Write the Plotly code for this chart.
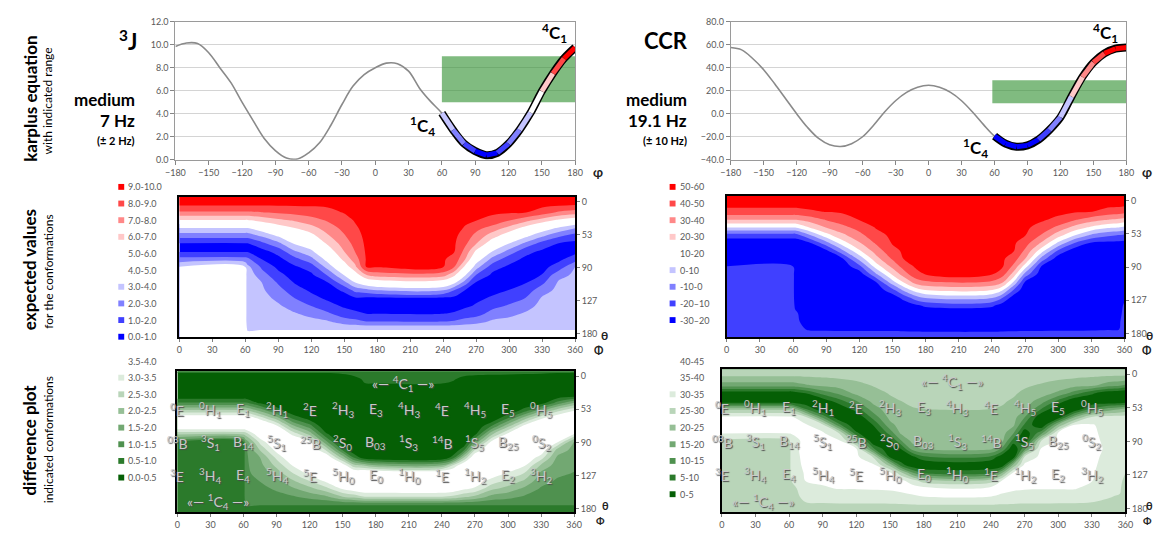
import numpy as np
import plotly.graph_objects as go

W, H = 1163, 533
FONT = "Lato"
TICK = dict(size=9, color='#595959', family=FONT)


def px(x):
    return x / W


def py(y):
    return 1 - y / H


# ---------------------------------------------------------------- data
PHI_TORSION = list(range(-180, 181, 10))
J3_VALUES = [9.85, 10.15, 10.1, 9.3, 8.0, 6.7, 5.0, 3.4, 1.85, 0.8, 0.15, 0.07, 0.6,
             1.5, 3.0, 4.8, 6.4, 7.4, 8.0, 8.4, 8.35, 7.7, 6.2, 5.05, 4.05, 2.6, 1.4,
             0.75, 0.4, 0.6, 1.4, 2.6, 4.1, 5.95, 7.5, 8.8, 9.75]
CCR_VALUES = [57.5, 55.5, 48, 38.3, 26, 13, 0, -12, -21.5, -27, -28.5, -26, -20,
              -10, 1.5, 11.3, 18.5, 23, 24.7, 23, 18.5, 11.3, 1.5, -9.5, -19.5, -26,
              -28.7, -27.5, -22.5, -14, -3, 15, 32, 44.5, 52.5, 56.5, 57.5]
J3_MEDIUM, J3_TOL = 7.0, 2.0
CCR_MEDIUM, CCR_TOL = 19.1, 10.0
SEG_START = 60
BOX_J = (60, 180)
BOX_CCR = (58, 180)

THETA_ROWS = list(range(0, 181, 10))
THETA_TICKPOS = [6, 48.5, 91, 133, 175.5]
THETA_TICKTEXT = ["0", "53", "90", "127", "180"]

PHI_COLS_J = [0, 60, 62, 75, 90, 105, 120, 135, 150, 160, 170, 180, 240, 250, 260,
              270, 285, 300, 315, 330, 345, 360]
J_EXPECTED_COLS = [
    [9.6, 9.12, 7.83, 5.89, 3.98, 2.40, 0.90, 0.89, 2.37, 4.03, 4.4, 4.4, 4.4, 4.4, 4.4, 4.4, 4.4, 4.4, 4.4],
    [9.6, 9.12, 7.83, 5.89, 3.98, 2.40, 0.90, 0.89, 2.37, 4.03, 4.4, 4.4, 4.4, 4.4, 4.4, 4.4, 4.4, 4.4, 4.4],
    [9.6, 9.12, 7.83, 5.89, 3.98, 2.40, 0.90, 0.89, 2.25, 3.3, 3.6, 3.6, 3.6, 3.6, 3.6, 3.6, 3.6, 3.9, 4.4],
    [9.6, 9.12, 7.96, 6.3, 4.64, 3.14, 1.67, 0.63, 1.0, 1.83, 2.44, 3.0, 3.16, 3.33, 3.49, 3.66, 3.82, 3.96, 4.4],
    [9.6, 9.12, 8.12, 6.77, 5.38, 4.13, 2.71, 1.38, 0.68, 0.77, 1.29, 1.88, 2.35, 2.78, 3.14, 3.42, 3.69, 3.96, 4.4],
    [9.6, 9.12, 8.29, 7.13, 6.0, 5.05, 4.1, 2.88, 1.67, 0.85, 0.54, 0.92, 1.44, 2.0, 2.56, 3.09, 3.55, 3.96, 4.4],
    [9.6, 9.14, 8.46, 7.6, 6.6, 5.64, 4.73, 3.78, 2.67, 1.44, 0.83, 0.5, 0.83, 1.33, 2.0, 2.67, 3.33, 3.96, 4.4],
    [9.6, 9.17, 8.67, 8.11, 7.5, 6.86, 6.14, 5.30, 4.43, 3.38, 2.13, 0.96, 0.58, 0.81, 1.38, 2.18, 3.09, 3.96, 4.4],
    [9.6, 9.3, 9.05, 8.64, 8.29, 7.91, 7.45, 7.0, 6.29, 5.29, 4.12, 2.71, 1.17, 0.55, 0.85, 1.45, 2.5, 3.96, 4.4],
    [9.6, 9.43, 9.26, 9.09, 8.86, 8.59, 8.32, 8.05, 7.5, 6.75, 5.43, 4.02, 2.33, 0.88, 0.65, 1.2, 2.3, 3.96, 4.4],
    [9.6, 9.53, 9.47, 9.4, 9.33, 9.27, 9.2, 9.13, 9.07, 9.02, 7.0, 4.9, 2.6, 0.8, 0.6, 1.0, 2.0, 3.96, 4.4],
    [9.6, 9.54, 9.47, 9.41, 9.35, 9.28, 9.22, 9.16, 9.09, 9.03, 7.5, 5.3, 3.0, 0.8, 0.6, 1.0, 2.0, 3.96, 4.4],
    [9.6, 9.54, 9.47, 9.41, 9.35, 9.28, 9.22, 9.16, 9.09, 9.03, 7.5, 5.3, 3.0, 0.8, 0.6, 1.0, 2.0, 3.96, 4.4],
    [9.6, 9.52, 9.44, 9.36, 9.28, 9.2, 9.12, 9.04, 8.71, 8.0, 6.3, 4.3, 2.0, 0.75, 0.65, 1.1, 2.1, 3.96, 4.4],
    [9.6, 9.44, 9.28, 9.13, 8.93, 8.56, 8.19, 7.67, 7.02, 5.69, 4.15, 2.5, 0.95, 0.52, 0.85, 1.4, 2.4, 3.96, 4.4],
    [9.6, 9.4, 9.2, 9.02, 8.33, 7.67, 7.02, 5.78, 4.67, 3.43, 2.02, 0.89, 0.54, 0.82, 1.1, 1.6, 2.6, 3.96, 4.4],
    [9.6, 9.38, 9.16, 8.67, 7.6, 6.43, 5.18, 3.98, 2.63, 1.38, 0.8, 0.51, 0.77, 1.12, 1.71, 2.38, 3.17, 3.96, 4.4],
    [9.6, 9.35, 9.1, 8.02, 6.67, 5.25, 3.98, 2.63, 1.38, 0.81, 0.54, 0.73, 1.02, 1.56, 2.12, 2.71, 3.33, 3.96, 4.4],
    [9.6, 9.31, 9.03, 7.33, 5.6, 4.27, 2.71, 1.29, 0.8, 0.55, 0.7, 0.95, 1.44, 2.02, 2.59, 3.13, 3.57, 3.96, 4.4],
    [9.6, 9.27, 8.5, 6.5, 4.77, 3.17, 1.57, 0.83, 0.56, 0.72, 1.02, 1.77, 2.58, 3.11, 3.33, 3.56, 3.78, 3.96, 4.4],
    [9.6, 9.17, 7.83, 5.8, 3.83, 2.17, 0.93, 0.57, 0.79, 1.4, 2.67, 3.12, 3.26, 3.41, 3.56, 3.71, 3.85, 3.96, 4.4],
    [9.6, 9.03, 7.52, 5.23, 3.02, 1.53, 0.74, 0.73, 1.5, 3.05, 3.17, 3.29, 3.4, 3.52, 3.64, 3.76, 3.88, 3.96, 4.4],
]

PHI_COLS_CCR = [0, 60, 62, 75, 90, 105, 120, 135, 150, 160, 170, 180, 240, 250, 260,
                270, 285, 300, 315, 330, 345, 355, 360]
CCR_EXPECTED_COLS = [
    [58, 53.5, 46.6, 30.5, 10.5, -15, -26.7, -28.5, -26.4, -19.8, -18, -18, -18, -18, -18, -18, -18, -18, -18],
    [58, 53.5, 46.6, 30.5, 10.5, -15, -26.7, -28.5, -26.4, -19.8, -18, -18, -18, -18, -18, -18, -18, -18, -18],
    [58, 53.5, 46.6, 30.5, 10.5, -15, -26.7, -28.5, -26.4, -23, -23, -23, -23, -22.5, -21, -19, -19, -19, -18],
    [58, 53.8, 48.6, 34.3, 20.5, -1.1, -21.2, -26.4, -27.1, -27.8, -28.5, -27.9, -27.3, -26.6, -26.2, -24.1, -22.3, -20.4, -18],
    [58, 54.2, 50.4, 41, 30.5, 16, -4, -22.4, -26.5, -27.2, -27.8, -28.5, -27.8, -27.2, -26.5, -25.5, -23, -20.5, -18],
    [58, 54.7, 51.3, 45.4, 37.3, 27.8, 15.7, -2, -20.5, -26.4, -27.1, -27.9, -28.3, -27.7, -27.2, -26.1, -23.4, -20.6, -18],
    [58, 55.3, 52.7, 50.5, 43.8, 36.9, 29, 18.6, 3.3, -13.3, -26.1, -27.0, -28.0, -28.3, -27.4, -26.1, -23.6, -20.6, -18],
    [58, 56.2, 54.4, 52.5, 50.7, 46.7, 41.1, 34.3, 26, 14.3, -2, -20.5, -26.7, -28.2, -27.5, -26.3, -23.6, -20.6, -18],
    [58, 56.8, 55.6, 54.4, 53.2, 51.9, 50.7, 47.5, 41.3, 32.7, 21.3, 6, -13.3, -26.4, -28.5, -26.6, -23.8, -20.6, -18],
    [58, 57, 56, 55.1, 54.1, 53.1, 52.1, 51.2, 50.2, 43.8, 34.4, 20.5, 2, -16.7, -27, -27.4, -24.2, -20.7, -18],
    [58, 57.2, 56.4, 55.5, 54.7, 53.9, 53.1, 52.2, 51.4, 50.6, 46.3, 32.9, 14, -6, -23, -28.5, -25.1, -20.9, -18],
    [58, 57.2, 56.4, 55.7, 54.9, 54.1, 53.3, 52.6, 51.8, 51.0, 50.2, 38.3, 20.5, 0.5, -18.3, -27.8, -26, -21, -18],
    [58, 57.2, 56.4, 55.7, 54.9, 54.1, 53.3, 52.6, 51.8, 51.0, 50.2, 38.3, 20.5, 0.5, -18.3, -27.8, -26, -21, -18],
    [58, 57.1, 56.3, 55.4, 54.6, 53.7, 52.9, 52.0, 51.2, 50.3, 43.3, 30.5, 10.5, -10.5, -26, -27.9, -24.8, -20.8, -18],
    [58, 56.9, 55.8, 54.7, 53.6, 52.4, 51.3, 50.2, 44.7, 37, 25, 8, -11.7, -26, -28.1, -26.8, -24, -20.7, -18],
    [58, 56.4, 54.8, 53.2, 51.6, 50.5, 44.4, 38.3, 30.5, 15, -4, -21.2, -26.8, -28.2, -27.5, -26.3, -23.6, -20.6, -18],
    [58, 55.8, 53.6, 51.3, 46.9, 39, 28.6, 14.3, -4, -21.2, -26.5, -27.4, -28.3, -27.8, -26.9, -26.2, -23.4, -20.6, -18],
    [58, 55.1, 52.3, 48, 37.5, 24.3, 8, -12, -26.1, -26.8, -27.5, -28.2, -28.1, -27.4, -26.7, -26.2, -23.3, -20.5, -18],
    [58, 54.5, 51, 41.3, 26.7, 10.5, -10.5, -26.2, -26.6, -27.3, -27.9, -28.5, -27.9, -27.3, -26.6, -26.2, -23.3, -20.5, -18],
    [58, 54, 50.5, 35, 18, -2, -21.2, -26.3, -26.7, -27.1, -27.5, -27.1, -26.8, -26.4, -26.1, -24.1, -22.3, -20.4, -18],
    [58, 53.4, 46.2, 30.5, 12, -8, -22.7, -24.2, -24.5, -24.7, -25, -24.5, -24, -23.5, -23, -22.1, -21.1, -20.2, -18],
    [58, 53.2, 45, 28.5, 10.5, -10.5, -22.8, -23.8, -24, -24.2, -24.5, -24, -23.5, -23, -22.5, -21.5, -20.6, -20.1, -18],
    [58, 53, 43.3, 26.7, 8, -12, -23, -23.3, -23.5, -23.8, -24, -23, -22, -21, -19, -18.5, -18.3, -18.1, -18],
]

J_LEVELS = (1, 9, 1)
J_COLORS = ['#0000ff', '#4040ff', '#8080ff', '#c4c4ff', '#ffffff', '#ffffff',
            '#ffc8c8', '#ff8888', '#ff4848', '#ff0000']
CCR_LEVELS = (-20, 50, 10)
CCR_COLORS = ['#0000ff', '#4040ff', '#8080ff', '#c4c4ff', '#ffffff',
              '#ffc8c8', '#ff8888', '#ff4848', '#ff0000']
JD_LEVELS = (0.5, 3.5, 0.5)
CD_LEVELS = (5, 35, 5)
GREENS = ['#055f05', '#2b7a2b', '#4f914f', '#72a872', '#96bf96', '#b9d5b9',
          '#dcebdc', '#ffffff']

J_LEGEND = ["9.0-10.0", "8.0-9.0", "7.0-8.0", "6.0-7.0", "5.0-6.0", "4.0-5.0",
            "3.0-4.0", "2.0-3.0", "1.0-2.0", "0.0-1.0"]
CCR_LEGEND = ["50-60", "40-50", "30-40", "20-30", "10-20", "0-10", "-10-0",
              "-20–10", "-30–20"]
JD_LEGEND = ["3.5-4.0", "3.0-3.5", "2.5-3.0", "2.0-2.5", "1.5-2.0", "1.0-1.5",
             "0.5-1.0", "0.0-0.5"]
CD_LEGEND = ["40-45", "35-40", "30-35", "25-30", "20-25", "15-20", "10-15",
             "5-10", "0-5"]

LABEL_PHI = list(range(0, 331, 30))
ROW1 = ["<sup>0</sup>E", "<sup>0</sup>H<sub>1</sub>", "E<sub>1</sub>", "<sup>2</sup>H<sub>1</sub>",
        "<sup>2</sup>E", "<sup>2</sup>H<sub>3</sub>", "E<sub>3</sub>", "<sup>4</sup>H<sub>3</sub>",
        "<sup>4</sup>E", "<sup>4</sup>H<sub>5</sub>", "E<sub>5</sub>", "<sup>0</sup>H<sub>5</sub>"]
ROW2 = ["<sup>03</sup>B", "<sup>3</sup>S<sub>1</sub>", "B<sub>14</sub>", "<sup>5</sup>S<sub>1</sub>",
        "<sup>25</sup>B", "<sup>2</sup>S<sub>0</sub>", "B<sub>03</sub>", "<sup>1</sup>S<sub>3</sub>",
        "<sup>14</sup>B", "<sup>1</sup>S<sub>5</sub>", "B<sub>25</sub>", "<sup>0</sup>S<sub>2</sub>"]
ROW3 = ["<sup>3</sup>E", "<sup>3</sup>H<sub>4</sub>", "E<sub>4</sub>", "<sup>5</sup>H<sub>4</sub>",
        "<sup>5</sup>E", "<sup>5</sup>H<sub>0</sub>", "E<sub>0</sub>", "<sup>1</sup>H<sub>0</sub>",
        "<sup>1</sup>E", "<sup>1</sup>H<sub>2</sub>", "E<sub>2</sub>", "<sup>3</sup>H<sub>2</sub>"]
ROW_THETA = [48.5, 91, 133]

# ---------------------------------------------------------------- figure
fig = go.Figure()
shapes, annots = [], []


def bin_color(v, levels, colors):
    start, end, size = levels
    idx = int(np.floor((v - start) / size)) + 1
    return colors[max(0, min(len(colors) - 1, idx))]


def add_karplus(xa, ya, values, levels, colors):
    fig.add_trace(go.Scatter(x=PHI_TORSION, y=values, mode='lines', xaxis=xa, yaxis=ya,
                             line=dict(color='#8a8a8a', width=1.6, shape='spline', smoothing=1),
                             hoverinfo='skip', showlegend=False))
    i0 = PHI_TORSION.index(SEG_START)
    xs, ys = PHI_TORSION[i0:], values[i0:]
    fig.add_trace(go.Scatter(x=xs, y=ys, mode='lines', xaxis=xa, yaxis=ya,
                             line=dict(color='black', width=8, shape='spline', smoothing=1),
                             hoverinfo='skip', showlegend=False))
    for k in range(len(xs) - 1):
        c = bin_color((ys[k] + ys[k + 1]) / 2, levels, colors)
        fig.add_trace(go.Scatter(x=xs[k:k + 2], y=ys[k:k + 2], mode='lines', xaxis=xa, yaxis=ya,
                                 line=dict(color=c, width=5), hoverinfo='skip', showlegend=False))


def add_map(x, z, xa, ya, levels, colors):
    start, end, size = levels
    nc = int(round((end - start) / size)) + 1
    cs = [[k / nc, c] for k, c in enumerate(colors)]
    fig.add_trace(go.Contour(x=x, y=THETA_ROWS, z=z, xaxis=xa, yaxis=ya, autocontour=False,
                             contours=dict(start=start, end=end, size=size, coloring='fill',
                                           showlines=False),
                             colorscale=cs, showscale=False, line=dict(width=0, smoothing=1.0),
                             hoverinfo='skip'))


add_karplus('x', 'y', J3_VALUES, J_LEVELS, J_COLORS)
add_karplus('x2', 'y2', CCR_VALUES, CCR_LEVELS, CCR_COLORS)

zJ = np.array(J_EXPECTED_COLS).T
zC = np.array(CCR_EXPECTED_COLS).T
zJd = np.maximum(0, np.abs(zJ - J3_MEDIUM) - J3_TOL)
zCd = np.maximum(0, np.abs(zC - CCR_MEDIUM) - CCR_TOL)

add_map(PHI_COLS_J, zJ, 'x3', 'y3', J_LEVELS, J_COLORS)
add_map(PHI_COLS_CCR, zC, 'x4', 'y4', CCR_LEVELS, CCR_COLORS)
add_map(PHI_COLS_J, zJd, 'x5', 'y5', JD_LEVELS, GREENS)
add_map(PHI_COLS_CCR, zCd, 'x6', 'y6', CD_LEVELS, GREENS)

# green range boxes
for xr, yr, (b0, b1), med, tol in [('x', 'y', BOX_J, J3_MEDIUM, J3_TOL),
                                   ('x2', 'y2', BOX_CCR, CCR_MEDIUM, CCR_TOL)]:
    shapes.append(dict(type='rect', xref=xr, yref=yr, x0=b0, x1=b1, y0=med - tol, y1=med + tol,
                       fillcolor='rgba(50,145,50,0.62)', line=dict(width=0), layer='between'))

# axes
layout_axes = {}
kar = dict(ticks='outside', ticklen=4, tickcolor='#868686', showline=True, linecolor='#9a9a9a',
           linewidth=1, mirror=True, zeroline=False, tickfont=TICK)
layout_axes['xaxis'] = dict(domain=[px(168), px(574)], anchor='y', range=[-180, 180],
                            tickvals=list(range(-180, 181, 30)), showgrid=False, **kar)
layout_axes['yaxis'] = dict(domain=[py(157), py(16)], anchor='x', range=[0, 12], dtick=2, tick0=0,
                            tickformat='.1f', showgrid=True, gridcolor='#d4d4d4', **kar)
layout_axes['xaxis2'] = dict(domain=[px(732), px(1134)], anchor='y2', range=[-180, 180],
                             tickvals=list(range(-180, 181, 30)), showgrid=False, **kar)
layout_axes['yaxis2'] = dict(domain=[py(157), py(16)], anchor='x2', range=[-40, 80], dtick=20,
                             tick0=-40, tickformat='.1f', showgrid=True, gridcolor='#d4d4d4', **kar)

mp = dict(ticks='outside', ticklen=3, tickcolor='#7f7f7f', showline=True, linecolor='black',
          linewidth=1.5, mirror=True, zeroline=False, showgrid=False, tickfont=TICK)
map_boxes = {3: (172, 574, 195, 338), 4: (728, 1132, 194, 338),
             5: (170, 573, 373, 517), 6: (723, 1133, 371, 517)}
for n, (x0, x1, y0, y1) in map_boxes.items():
    layout_axes[f'xaxis{n}'] = dict(domain=[px(x0), px(x1)], anchor=f'y{n}', range=[0, 360],
                                    tickvals=list(range(0, 361, 30)), **mp)
    layout_axes[f'yaxis{n}'] = dict(domain=[py(y1), py(y0)], anchor=f'x{n}', range=[180, 0],
                                    side='right', tickvals=THETA_TICKPOS, ticktext=THETA_TICKTEXT,
                                    **mp)


def note(x, y, text, size=12, color='black', xanchor='center', yanchor='middle', angle=0,
         bold=False):
    annots.append(dict(x=px(x), y=py(y), xref='paper', yref='paper',
                       text=f"<b>{text}</b>" if bold else text,
                       showarrow=False, xanchor=xanchor, yanchor=yanchor, textangle=angle,
                       font=dict(size=size, color=color, family=FONT)))


# row titles
note(20, 95, "karplus equation", 17, bold=True, angle=-90)
note(39, 97, "with indicated range", 12, angle=-90)
note(20, 269, "expected values", 17, bold=True, angle=-90)
note(39, 271, "for the conformations", 12, angle=-90)
note(20, 443, "difference plot", 17, bold=True, angle=-90)
note(39, 443, "indicated conformations", 12, angle=-90)

# karplus annotations
note(131, 35, "<sup>3</sup>J", 22, bold=True, xanchor='right')
note(129, 95, "medium", 17, bold=True, xanchor='right')
note(129, 117, "7 Hz", 17, bold=True, xanchor='right')
note(129, 137, "(± 2 Hz)", 11, bold=True, xanchor='right')
note(691, 35, "CCR", 22, bold=True, xanchor='right')
note(690, 95, "medium", 17, bold=True, xanchor='right')
note(690, 117, "19.1 Hz", 17, bold=True, xanchor='right')
note(690, 137, "(± 10 Hz)", 11, bold=True, xanchor='right')
note(553, 28, "<sup>4</sup>C<sub>1</sub>", 17, bold=True)
note(419, 123, "<sup>1</sup>C<sub>4</sub>", 17, bold=True)
note(1113, 28, "<sup>4</sup>C<sub>1</sub>", 17, bold=True)
note(981, 145, "<sup>1</sup>C<sub>4</sub>", 17, bold=True)
note(597, 170, "φ", 13, bold=True, color='#222')
note(1155, 170, "φ", 13, bold=True, color='#222')

# θ / Φ labels
for xt, yt, xp, yp in [(604, 336, 598, 351), (1157, 336, 1155, 351)]:
    note(xt, yt, "θ", 12, bold=True, color='#222')
    note(xp, yp, "Φ", 11, bold=True, color='#222')
for xt, yt, xp, yp in [(605, 510, 600, 525), (1157, 510, 1155, 525)]:
    note(xt, yt, "θ", 11, bold=True, color='#222')
    note(xp, yp, "Φ", 10, bold=True, color='#222')

# legends


def legend(entries, colors, sx, tx, y0):
    for k, (lab, col) in enumerate(zip(entries, colors)):
        yc = y0 + 17 * k
        if col is not None:
            shapes.append(dict(type='rect', xref='paper', yref='paper', x0=px(sx), x1=px(sx + 6),
                               y0=py(yc + 3), y1=py(yc - 3), fillcolor=col, line=dict(width=0)))
        note(tx, yc, lab, 9, color='#595959', xanchor='left')


def swatches(colors):
    return [None if c == '#ffffff' else c for c in colors]


legend(J_LEGEND, swatches(J_COLORS[::-1]), 110, 118, 184.7)
legend(CCR_LEGEND, swatches(CCR_COLORS[::-1]), 670, 678, 184.7)
legend(JD_LEGEND, swatches(GREENS[::-1]), 110, 118, 362.5)
legend(CD_LEGEND, [None] + swatches(GREENS[::-1]), 670, 678, 362.5)

# conformation labels
LBL_FONT = dict(size=14, color='#c9c9c9', family=FONT, shadow='1px 1px 1px #4a4a4a')
for xa, ya in [('x5', 'y5'), ('x6', 'y6')]:
    for row, th in zip([ROW1, ROW2, ROW3], ROW_THETA):
        for ph, txt in zip(LABEL_PHI, row):
            annots.append(dict(x=ph, y=th, xref=xa, yref=ya, text=txt, showarrow=False,
                               font=LBL_FONT))
    annots.append(dict(x=205, y=15, xref=xa, yref=ya, showarrow=False, font=LBL_FONT,
                       text="«— <sup>4</sup>C<sub>1</sub> —»"))
    annots.append(dict(x=37, y=166, xref=xa, yref=ya, showarrow=False, font=LBL_FONT,
                       text="«— <sup>1</sup>C<sub>4</sub> —»"))

fig.update_layout(width=W, height=H, margin=dict(l=0, r=0, t=0, b=0), paper_bgcolor='white',
                  plot_bgcolor='white', showlegend=False, shapes=shapes, annotations=annots,
                  font=dict(family=FONT), **layout_axes)

fig.write_html("out.html")
